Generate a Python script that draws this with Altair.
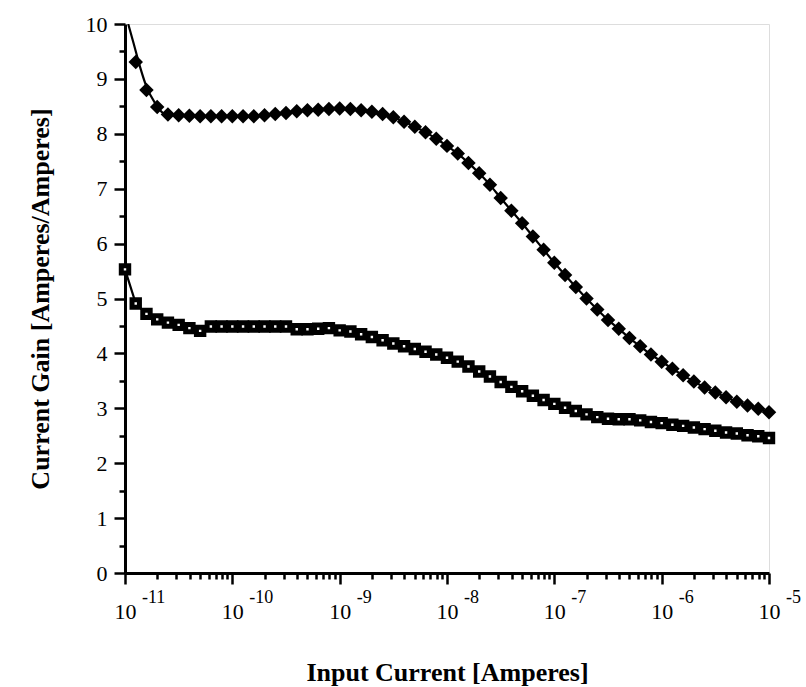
import altair as alt
import pandas as pd

# ---- data ----
log_current = [-11.0, -10.9, -10.8, -10.7, -10.6, -10.5, -10.4, -10.3, -10.2, -10.1,
               -10.0, -9.9, -9.8, -9.7, -9.6, -9.5, -9.4, -9.3, -9.2, -9.1,
               -9.0, -8.9, -8.8, -8.7, -8.6, -8.5, -8.4, -8.3, -8.2, -8.1,
               -8.0, -7.9, -7.8, -7.7, -7.6, -7.5, -7.4, -7.3, -7.2, -7.1,
               -7.0, -6.9, -6.8, -6.7, -6.6, -6.5, -6.4, -6.3, -6.2, -6.1,
               -6.0, -5.9, -5.8, -5.7, -5.6, -5.5, -5.4, -5.3, -5.2, -5.1, -5.0]

square_gain = [5.53, 4.91, 4.72, 4.62, 4.56, 4.52, 4.46, 4.41, 4.49, 4.49,
               4.49, 4.49, 4.49, 4.49, 4.49, 4.49, 4.44, 4.44, 4.45, 4.46,
               4.42, 4.40, 4.35, 4.30, 4.24, 4.18, 4.13, 4.08, 4.03, 3.98,
               3.92, 3.85, 3.76, 3.67, 3.58, 3.48, 3.39, 3.31, 3.23, 3.15,
               3.08, 3.01, 2.95, 2.89, 2.84, 2.81, 2.80, 2.80, 2.78, 2.75,
               2.73, 2.70, 2.68, 2.65, 2.62, 2.59, 2.56, 2.54, 2.51, 2.49, 2.46]

# diamonds start one step after the first square
diamond_gain = [9.31, 8.80, 8.49, 8.35, 8.34, 8.33, 8.32, 8.32, 8.32,
                8.32, 8.32, 8.32, 8.34, 8.36, 8.38, 8.41, 8.43, 8.44, 8.45,
                8.46, 8.45, 8.43, 8.40, 8.36, 8.30, 8.22, 8.13, 8.03, 7.91,
                7.78, 7.64, 7.47, 7.28, 7.07, 6.83, 6.60, 6.37, 6.13, 5.89,
                5.65, 5.43, 5.21, 5.00, 4.80, 4.61, 4.45, 4.28, 4.13, 3.98,
                3.85, 3.72, 3.60, 3.49, 3.38, 3.29, 3.20, 3.12, 3.05, 2.99, 2.93]

# smooth curve drawn through the diamonds (its start departs from the markers)
fit_start_log = [-10.97, -10.92, -10.86, -10.80, -10.72, -10.64]
fit_start_gain = [10.0, 9.65, 9.22, 8.86, 8.56, 8.37]

decades = [-11, -10, -9, -8, -7, -6, -5]
decade_exponent_text = ["-11", "-10", "-9", "-8", "-7", "-6", "-5"]

# ---- tables ----
sq = pd.DataFrame({"current": [10 ** v for v in log_current], "gain": square_gain})
di = pd.DataFrame({"current": [10 ** v for v in log_current[1:]], "gain": diamond_gain})
fit = pd.DataFrame({
    "current": [10 ** v for v in fit_start_log] + [10 ** v for v in log_current[4:]],
    "gain": fit_start_gain + diamond_gain[3:],
})
expo = pd.DataFrame({"current": [10.0 ** d for d in decades], "txt": decade_exponent_text})

W, H = 644, 549
FONT = "Liberation Serif"

x_ticks = [m * 10.0 ** e for e in range(-11, -5) for m in range(1, 10)] + [1e-5]
y_ticks = [i * 0.5 for i in range(21)]

is_decade = "abs(log(datum.value)/LN10 - round(log(datum.value)/LN10)) < 0.001"

x_scale = alt.Scale(type="log", domain=[1e-11, 1e-5], nice=False)
y_scale = alt.Scale(domain=[0, 10], nice=False, zero=False)

x_axis = alt.Axis(
    values=x_ticks,
    labelExpr=f"({is_decade}) ? '10' : ''",
    title="Input Current [Amperes]",
    titleFont=FONT, titleFontSize=26, titleFontWeight="bold", titleColor="black",
    titleX=W / 2, titleY=99, titleBaseline="middle", titleAlign="center",
    labelFont=FONT, labelFontSize=22, labelColor="black", labelPadding=17,
    labelFlush=False, labelOverlap=False,
    tickSize={"condition": {"test": is_decade, "value": 11}, "value": 6},
    tickColor="black", tickWidth=2.5,
    domainColor="black", domainWidth=3, grid=False,
)
y_axis = alt.Axis(
    values=y_ticks,
    labelExpr="datum.value % 1 == 0 ? format(datum.value, 'd') : ''",
    title="Current Gain [Amperes/Amperes]",
    titleFont=FONT, titleFontSize=26, titleFontWeight="bold", titleColor="black",
    titleX=-85, titleY=H / 2, titleBaseline="middle", titleAlign="center", titleAngle=270,
    labelFont=FONT, labelFontSize=22, labelColor="black", labelPadding=7,
    labelOverlap=False, labelFlush=False,
    tickSize={"condition": {"test": "datum.value % 1 == 0", "value": 11}, "value": 6},
    tickColor="black", tickWidth=2.5,
    domainColor="black", domainWidth=3, grid=False,
)

X = alt.X("current:Q", scale=x_scale, axis=x_axis)
Y = alt.Y("gain:Q", scale=y_scale, axis=y_axis)

fit_line = alt.Chart(fit).mark_line(color="black", strokeWidth=2.2, interpolate="monotone", clip=True).encode(x=X, y=Y)
sq_line = alt.Chart(sq).mark_line(color="black", strokeWidth=2.2).encode(x=X, y=Y)
sq_pts = alt.Chart(sq).mark_point(shape="square", filled=True, fill="white", stroke="black",
                                  strokeWidth=5, size=55, opacity=1).encode(x=X, y=Y)
di_pts = alt.Chart(di).mark_point(shape="diamond", filled=True, color="black",
                                  size=210, opacity=1).encode(x=X, y=Y)
expo_txt = alt.Chart(expo).mark_text(align="left", baseline="middle", dx=17, font=FONT,
                                     fontSize=18, color="black").encode(
    x=alt.X("current:Q", scale=x_scale, axis=x_axis),
    y=alt.value(H + 25),
    text="txt:N",
)

chart = alt.layer(fit_line, sq_line, sq_pts, di_pts, expo_txt).properties(
    width=W, height=H,
    autosize=alt.AutoSizeParams(type="none"),
    padding={"left": 125, "top": 24, "right": 37, "bottom": 114},
).configure_view(stroke="black", strokeWidth=3).configure_axis(
    labelFont=FONT, titleFont=FONT
).configure_text(font=FONT).configure(background="white")

chart.save("out.html", embed_options={"renderer": "svg", "actions": False})
